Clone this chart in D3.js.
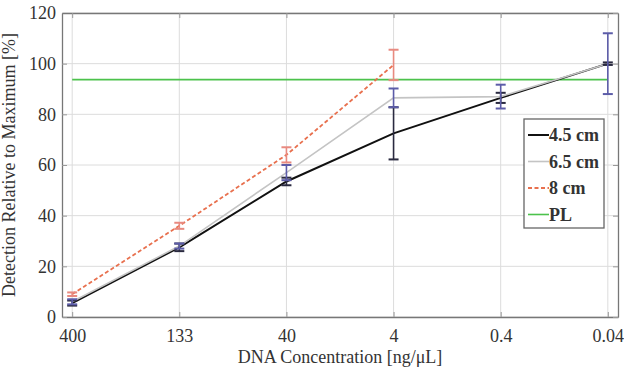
<!DOCTYPE html>
<html>
<head>
<meta charset="utf-8">
<script src="https://cdn.jsdelivr.net/npm/d3@7"></script>
<style>
  body { margin: 0; background: #fff; }
  text { font-family: "Liberation Serif", "DejaVu Serif", serif; fill: #333; }
</style>
</head>
<body>
<div id="chart"></div>
<script>
// concentrations (categorical, evenly spaced)
const concentrations = ['400', '133', '40', '4', '0.4', '0.04'];
const yTicks = [0, 20, 40, 60, 80, 100, 120];

const values45 = [5.5, 27.5, 53.5, 72.5, 86.5, 100];
const errors45 = [1, 1.5, 1.5, 10.3, 2, 0.5];
const values65 = [6, 28, 57, 86.5, 87, 100];
const errors65 = [1, 1, 3, 3.7, 4.7, 12];
const values8 = [9, 36, 64, 99.5];
const errors8 = [0.7, 1.2, 3, 6];
const plLevel = 93.7;

const series = [
  { name: '4.5 cm', values: values45, errors: errors45, color: '#111', width: 2, dash: null, errColor: '#2a2a40' },
  { name: '6.5 cm', values: values65, errors: errors65, color: '#c4c4c4', width: 1.6, dash: null, errColor: '#5c5ca8' },
  { name: '8 cm', values: values8, errors: errors8, color: '#e8704e', width: 1.8, dash: '4,2.5', errColor: '#e88a80' }
];

const W = 624, H = 371;
const margin = { top: 13, right: 6, bottom: 54, left: 62 };
const width = W - margin.left - margin.right;
const height = H - margin.top - margin.bottom;

const svg = d3.select('#chart').append('svg')
  .attr('width', W).attr('height', H)
  .append('g')
  .attr('transform', `translate(${margin.left},${margin.top})`);

const x = d3.scaleLinear().domain([-0.095, 5.095]).range([0, width]);
const y = d3.scaleLinear().domain([0, 120]).range([height, 0]);
const idx = d3.range(concentrations.length);

// grid
svg.append('g').selectAll('line').data(yTicks).enter().append('line')
  .attr('x1', 0).attr('x2', width)
  .attr('y1', d => y(d)).attr('y2', d => y(d))
  .attr('stroke', '#dcdcdc').attr('stroke-width', 1);
svg.append('g').selectAll('line').data(idx).enter().append('line')
  .attr('x1', d => x(d)).attr('x2', d => x(d))
  .attr('y1', 0).attr('y2', height)
  .attr('stroke', '#dcdcdc').attr('stroke-width', 1);

// axes (inward ticks, box style)
const xAxis = svg.append('g')
  .attr('transform', `translate(0,${height})`)
  .call(d3.axisBottom(x).tickValues(idx).tickFormat(i => concentrations[i]).tickSizeInner(-5).tickSizeOuter(0).tickPadding(12));
const yAxis = svg.append('g')
  .call(d3.axisLeft(y).tickValues(yTicks).tickSizeInner(-5).tickSizeOuter(0).tickPadding(6));
svg.append('g')
  .call(d3.axisTop(x).tickValues(idx).tickFormat('').tickSizeInner(-5).tickSizeOuter(0));
svg.append('g')
  .attr('transform', `translate(${width},0)`)
  .call(d3.axisRight(y).tickValues(yTicks).tickFormat('').tickSizeInner(-5).tickSizeOuter(0));

svg.selectAll('.domain').attr('stroke', '#777').attr('stroke-width', 1.3);
svg.selectAll('.tick line').attr('stroke', '#999');
svg.selectAll('.tick text').style('font-size', '18px').attr('fill', '#333');

svg.append('text')
  .attr('x', width / 2).attr('y', height + 46)
  .attr('text-anchor', 'middle').style('font-size', '18px')
  .text('DNA Concentration [ng/μL]');
svg.append('text')
  .attr('transform', 'rotate(-90)')
  .attr('x', -height / 2).attr('y', -47)
  .attr('text-anchor', 'middle').style('font-size', '18px')
  .text('Detection Relative to Maximum [%]');

// PL line
svg.append('line')
  .attr('x1', x(0)).attr('x2', x(concentrations.length - 1))
  .attr('y1', y(plLevel)).attr('y2', y(plLevel))
  .attr('stroke', '#4cc24c').attr('stroke-width', 1.6);

const line = d3.line().x((d, i) => x(i)).y(d => y(d));

series.forEach(s => {
  svg.append('path')
    .datum(s.values)
    .attr('d', line)
    .attr('fill', 'none')
    .attr('stroke', s.color)
    .attr('stroke-width', s.width)
    .attr('stroke-dasharray', s.dash);
});

// error bars
series.forEach(s => {
  const g = svg.append('g');
  s.values.forEach((v, i) => {
    const e = s.errors[i];
    const cx = x(i);
    g.append('line').attr('x1', cx).attr('x2', cx)
      .attr('y1', y(v - e)).attr('y2', y(v + e))
      .attr('stroke', s.errColor).attr('stroke-width', 1.6);
    [v - e, v + e].forEach(t => {
      g.append('line').attr('x1', cx - 5).attr('x2', cx + 5)
        .attr('y1', y(t)).attr('y2', y(t))
        .attr('stroke', s.errColor).attr('stroke-width', 2);
    });
  });
});

// legend
const legendItems = series.map(s => ({ name: s.name, color: s.color, width: s.width, dash: s.dash }))
  .concat([{ name: 'PL', color: '#4cc24c', width: 1.6, dash: null }]);
const lg = svg.append('g').attr('transform', `translate(${524 - margin.left},${119 - margin.top})`);
lg.append('rect').attr('width', 80).attr('height', 109)
  .attr('fill', '#fff').attr('stroke', '#666').attr('stroke-width', 1.3);
legendItems.forEach((d, i) => {
  const ly = 16 + i * 26.5;
  lg.append('line').attr('x1', 4).attr('x2', 25).attr('y1', ly).attr('y2', ly)
    .attr('stroke', d.color).attr('stroke-width', d.width).attr('stroke-dasharray', d.dash);
  lg.append('text').attr('x', 25).attr('y', ly + 6)
    .style('font-size', '18px').style('font-weight', 'bold').attr('fill', '#333')
    .text(d.name);
});
</script>
</body>
</html>
